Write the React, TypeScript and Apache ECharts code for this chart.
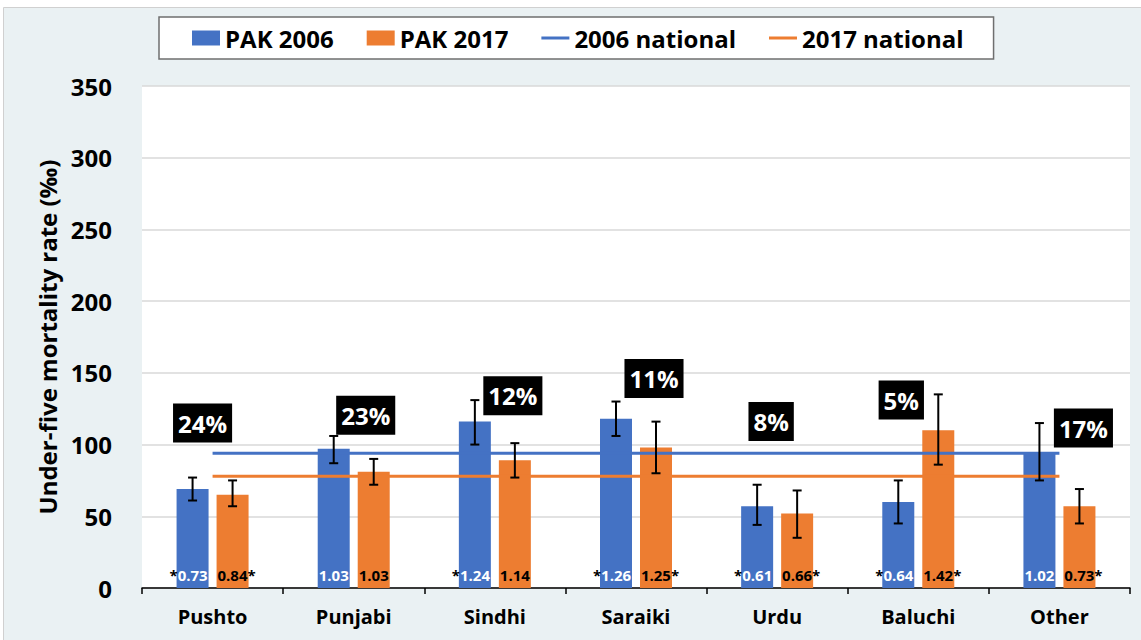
import React, { useEffect, useRef } from "react";
import * as echarts from "echarts";

const categories = ["Pushto", "Punjabi", "Sindhi", "Saraiki", "Urdu", "Baluchi", "Other"];
const u5mr2006 = [69, 97, 116, 118, 57, 60, 94];
const u5mr2017 = [65, 81, 89, 98, 52, 110, 57];
const ci2006Low = [61, 87, 100, 106, 44, 45, 75];
const ci2006High = [77, 106, 131, 130, 72, 75, 115];
const ci2017Low = [57, 72, 77, 80, 35, 86, 45];
const ci2017High = [75, 90, 101, 116, 68, 135, 69];
const national2006 = 94;
const national2017 = 78;
const ratio2006 = ["0.73", "1.03", "1.24", "1.26", "0.61", "0.64", "1.02"];
const sig2006 = [true, false, true, true, true, true, false];
const ratio2017 = ["0.84", "1.03", "1.14", "1.25", "0.66", "1.42", "0.73"];
const sig2017 = [true, false, false, true, true, true, true];
const shares = ["24%", "23%", "12%", "11%", "8%", "5%", "17%"];
const shareAnchorY = [115, 120.5, 134, 146, 116, 131, 111.5];
const shareOffsetX = [-10, 12, 18, 18, -6, -17, 24];
const yTicks = { min: 0, max: 350, interval: 50 };

const FONT = "'Open Sans', sans-serif";
const BLUE = "#4472C4";
const ORANGE = "#ED7D31";
const BAR_W = 32;
const BAR_GAP = 8;
const OFFSET = (BAR_W + BAR_GAP) / 2;
const STAR_SHIFT = 4;
const LINE_ICON = "path://M0,0 L28,0 L28,3 L0,3 Z";

function errorSeries(name: string, low: number[], high: number[], sign: number) {
  return {
    type: "custom",
    name,
    z: 10,
    data: low.map((l, i) => [i, l, high[i]]),
    encode: { x: 0, y: [1, 2] },
    renderItem: (params: any, api: any) => {
      const x = api.value(0);
      const lo = api.coord([x, api.value(1)]);
      const hi = api.coord([x, api.value(2)]);
      const cx = lo[0] + sign * OFFSET;
      const st = { stroke: "#000", lineWidth: 2 };
      return {
        type: "group",
        children: [
          { type: "line", shape: { x1: cx, y1: hi[1], x2: cx, y2: lo[1] }, style: st },
          { type: "line", shape: { x1: cx - 4.5, y1: hi[1], x2: cx + 4.5, y2: hi[1] }, style: st },
          { type: "line", shape: { x1: cx - 4.5, y1: lo[1], x2: cx + 4.5, y2: lo[1] }, style: st },
        ],
      };
    },
  };
}

const RS = { fontSize: 15, fontWeight: "bold", fontFamily: FONT };
const ratioRich = {
  k: { ...RS, color: "#000" },
  w: { ...RS, color: "#fff" },
  d: { ...RS, color: "#000" },
};

export default function App() {
  const ref = useRef<HTMLDivElement>(null);
  useEffect(() => {
    if (!ref.current) return;
    const chart = echarts.init(ref.current, null, { renderer: "svg" });
    chart.setOption({
      animation: false,
      backgroundColor: "#fff",
      textStyle: { fontFamily: FONT },
      graphic: [
        {
          type: "rect",
          z: -10,
          silent: true,
          shape: { x: 3.5, y: 7.5, width: 1140, height: 636 },
          style: { fill: "#eaf1f3", stroke: "#d0d0d0", lineWidth: 1 },
        },
      ],
      legend: {
        left: 159,
        top: 17,
        padding: [9, 30, 9, 33],
        itemGap: 33,
        itemWidth: 28,
        itemHeight: 15,
        backgroundColor: "#fff",
        borderColor: "#6f6f6f",
        borderWidth: 1.5,
        borderRadius: 0,
        textStyle: { fontSize: 24, fontWeight: "bold", color: "#000", fontFamily: FONT },
        data: [
          { name: "PAK 2006", icon: "rect" },
          { name: "PAK 2017", icon: "rect" },
          { name: "2006 national", icon: LINE_ICON },
          { name: "2017 national", icon: LINE_ICON },
        ],
      },
      grid: {
        left: 142,
        right: 11,
        top: 86,
        bottom: 52,
        show: true,
        backgroundColor: "#fff",
        borderWidth: 0,
      },
      xAxis: {
        type: "category",
        data: categories,
        axisLine: { lineStyle: { color: "#000", width: 1.5 } },
        axisTick: { show: true, length: 6, lineStyle: { color: "#000", width: 1.5 } },
        axisLabel: { fontSize: 20, fontWeight: "bold", color: "#000", margin: 18, fontFamily: FONT },
      },
      yAxis: {
        type: "value",
        min: yTicks.min,
        max: yTicks.max,
        interval: yTicks.interval,
        axisLine: { show: false },
        axisTick: { show: false },
        axisLabel: { fontSize: 24, fontWeight: "bold", color: "#000", margin: 30, fontFamily: FONT },
        splitLine: { lineStyle: { color: "#d9d9d9", width: 1.5 } },
        name: "Under-five mortality rate (‰)",
        nameLocation: "middle",
        nameGap: 80,
        nameTextStyle: { fontSize: 24, fontWeight: "bold", color: "#000", fontFamily: FONT },
      },
      series: [
        {
          name: "PAK 2006",
          type: "bar",
          data: u5mr2006.map((v, i) => ({
            value: v,
            label: { offset: [sig2006[i] ? -STAR_SHIFT : 0, 0] },
          })),
          barWidth: BAR_W,
          barGap: (BAR_GAP / BAR_W) * 100 + "%",
          itemStyle: { color: BLUE },
          label: {
            show: true,
            position: "insideBottom",
            distance: 6,
            formatter: (p: any) =>
              sig2006[p.dataIndex]
                ? `{k|*}{w|${ratio2006[p.dataIndex]}}`
                : `{w|${ratio2006[p.dataIndex]}}`,
            rich: ratioRich,
          },
        },
        {
          name: "PAK 2017",
          type: "bar",
          data: u5mr2017.map((v, i) => ({
            value: v,
            label: { offset: [sig2017[i] ? STAR_SHIFT : 0, 0] },
          })),
          barWidth: BAR_W,
          itemStyle: { color: ORANGE },
          label: {
            show: true,
            position: "insideBottom",
            distance: 6,
            formatter: (p: any) =>
              sig2017[p.dataIndex]
                ? `{d|${ratio2017[p.dataIndex]}}{k|*}`
                : `{d|${ratio2017[p.dataIndex]}}`,
            rich: ratioRich,
          },
        },
        {
          name: "2006 national",
          type: "line",
          data: categories.map(() => national2006),
          symbol: "none",
          z: 5,
          lineStyle: { color: BLUE, width: 3 },
          itemStyle: { color: BLUE },
        },
        {
          name: "2017 national",
          type: "line",
          data: categories.map(() => national2017),
          symbol: "none",
          z: 5,
          lineStyle: { color: ORANGE, width: 3 },
          itemStyle: { color: ORANGE },
        },
        errorSeries("err2006", ci2006Low, ci2006High, -1),
        errorSeries("err2017", ci2017Low, ci2017High, 1),
        {
          name: "shares",
          type: "scatter",
          symbolSize: 0,
          z: 20,
          itemStyle: { opacity: 1 },
          data: shares.map((s, i) => ({
            value: [i, shareAnchorY[i]],
            label: { offset: [shareOffsetX[i], 0] },
          })),
          label: {
            show: true,
            position: "inside",
            formatter: (p: any) => shares[p.dataIndex],
            backgroundColor: "#000",
            color: "#fff",
            fontSize: 24,
            fontWeight: "bold",
            fontFamily: FONT,
            lineHeight: 28,
            padding: [6, 5, 5, 5],
          },
        },
      ],
    });
    return () => chart.dispose();
  }, []);
  return (
    <div
      ref={ref}
      style={{ position: "absolute", left: 0, top: 0, width: 1141, height: 640 }}
    />
  );
}
